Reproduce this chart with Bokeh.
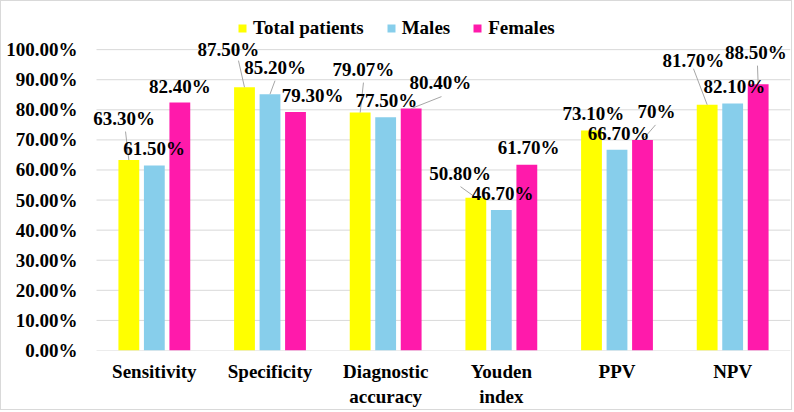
import numpy as np
from bokeh.plotting import figure
from bokeh.models import (ColumnDataSource, Range1d, FixedTicker, NumeralTickFormatter,
                          Legend, LegendItem)
from bokeh.core.properties import value
from bokeh.embed import file_html
from bokeh.resources import INLINE

# ---------------- data ----------------
categories = ["Sensitivity", "Specificity", "Diagnostic\naccuracy", "Youden\nindex", "PPV", "NPV"]
series_names = ["Total patients", "Males", "Females"]
total_patients = [0.633, 0.875, 0.7907, 0.508, 0.731, 0.817]
males = [0.615, 0.852, 0.775, 0.467, 0.667, 0.821]
females = [0.824, 0.793, 0.804, 0.617, 0.70, 0.885]
total_labels = ["63.30%", "87.50%", "79.07%", "50.80%", "73.10%", "81.70%"]
males_labels = ["61.50%", "85.20%", "77.50%", "46.70%", "66.70%", "82.10%"]
females_labels = ["82.40%", "79.30%", "80.40%", "61.70%", "70%", "88.50%"]
y_ticks = [0.0, 0.1, 0.2, 0.3, 0.4, 0.5, 0.6, 0.7, 0.8, 0.9, 1.0]

# ---------------- styles ----------------
colors = ["#FFFF00", "#87CEEB", "#FF1AAB"]
dodge = [-0.2205, 0.0, 0.2205]
bar_w = 0.18
FONT_NAME = "'Liberation Serif', 'Times New Roman', serif"
FONT = value(FONT_NAME)
FS = "19px"
PX_X = 694 / 6.0   # pixels per x unit
PX_Y = 301.0       # pixels per y unit
LEFT_PAD = 8 / PX_X  # extra room so labels are not clipped on the left

# label offsets (screen px) from bar top
label_offsets = [
    [(-4.8, -41.5), (-16, -37.6), (3.3, -43), (-15.8, -24), (2, -17), (-13.7, -44)],
    [(-0.3, -17), (5, -26.5), (0.8, -16.7), (1.2, -16.4), (1.5, -16), (1.8, -17)],
    [(0, -16), (17, -16.3), (29.3, -26), (1.7, -17.3), (14, -28), (-2.2, -31.6)],
]
# leader line start (screen px, relative to label centre); None = no leader
leader_starts = [
    [(1.5, 13), (10, 11), (0, 13), (0.5, 13), None, (0, 8)],
    [None, (0, 13), None, None, None, None],
    [None, None, (1, 14), None, (-1, 13), (1.5, 13)],
]

n = len(categories)
p = figure(width=792, height=410, output_backend="svg", toolbar_location=None,
           x_range=Range1d(-LEFT_PAD, n), y_range=Range1d(0, 1.15),
           min_border_left=87, min_border_right=3, min_border_top=3, min_border_bottom=61)
p.styles = {"border": "1px solid #d9d9d9"}
p.outline_line_color = None
p.background_fill_color = "white"
p.border_fill_color = "white"

# horizontal grid lines across the category area
p.segment(x0=[0] * len(y_ticks), x1=[n] * len(y_ticks), y0=y_ticks, y1=y_ticks,
          line_color="#d9d9d9", line_width=1)

series_vals = [total_patients, males, females]
series_labels = [total_labels, males_labels, females_labels]
centers = np.arange(n) + 0.5

renderers = []
label_sources = []
seg_x0, seg_y0, seg_x1, seg_y1 = [], [], [], []
for k in range(3):
    xs = centers + dodge[k]
    src = ColumnDataSource(dict(x=xs, top=series_vals[k]))
    r = p.vbar(x="x", top="top", width=bar_w, source=src, fill_color=colors[k], line_color=None)
    renderers.append(r)
    dxs = [o[0] for o in label_offsets[k]]
    dys = [o[1] for o in label_offsets[k]]
    label_sources.append(ColumnDataSource(dict(x=xs, y=series_vals[k], text=series_labels[k],
                                               dx=dxs, dy=dys)))
    for i in range(n):
        ls = leader_starts[k][i]
        if ls is None:
            continue
        dx, dy = label_offsets[k][i]
        seg_x0.append(xs[i] + (dx + ls[0]) / PX_X)
        seg_y0.append(series_vals[k][i] - (dy + ls[1]) / PX_Y)
        seg_x1.append(xs[i])
        seg_y1.append(series_vals[k][i])

p.segment(x0=seg_x0, y0=seg_y0, x1=seg_x1, y1=seg_y1, line_color="#a6a6a6", line_width=1)

for lsrc in label_sources:
    p.text(x="x", y="y", text="text", x_offset="dx", y_offset="dy", source=lsrc,
           text_font=FONT, text_font_style="bold", text_font_size=FS,
           text_align="center", text_baseline="middle", text_color="black")

# axes
p.yaxis.ticker = FixedTicker(ticks=y_ticks)
p.yaxis.formatter = NumeralTickFormatter(format="0.00%")
p.yaxis.axis_line_color = None
p.yaxis.major_tick_line_color = None
p.yaxis.minor_tick_line_color = None
p.yaxis.major_label_standoff = 5
p.yaxis.major_label_text_font = FONT_NAME
p.yaxis.major_label_text_font_style = "bold"
p.yaxis.major_label_text_font_size = FS
p.yaxis.major_label_text_color = "black"

p.xaxis.ticker = FixedTicker(ticks=list(centers))
p.xaxis.major_label_overrides = {float(c): lab for c, lab in zip(centers, categories)}
p.xaxis.axis_line_color = None
p.xaxis.major_tick_line_color = None
p.xaxis.minor_tick_line_color = None
p.xaxis.major_label_standoff = 4
p.xaxis.major_label_text_font = FONT_NAME
p.xaxis.major_label_text_font_style = "bold"
p.xaxis.major_label_text_font_size = FS
p.xaxis.major_label_text_color = "black"

p.xgrid.grid_line_color = None
p.ygrid.grid_line_color = None

legend = Legend(items=[LegendItem(label=s, renderers=[r]) for s, r in zip(series_names, renderers)],
                orientation="horizontal", location=(149, 311),
                glyph_width=10, glyph_height=10, label_standoff=6, spacing=22,
                padding=0, margin=0, label_height=20,
                label_text_font=FONT_NAME, label_text_font_style="bold",
                label_text_font_size=FS, label_text_color="black",
                background_fill_alpha=0, border_line_color=None)
p.add_layout(legend)

open("out.html", "w").write(file_html(p, INLINE))
